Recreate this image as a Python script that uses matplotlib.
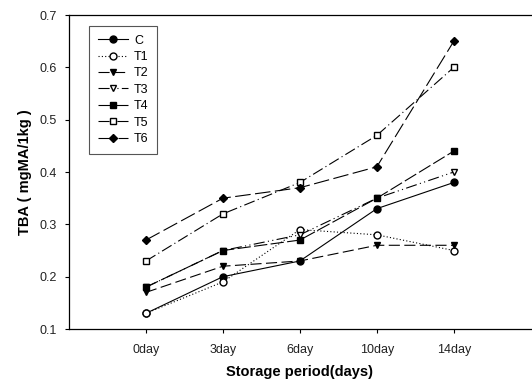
import matplotlib
matplotlib.use('Agg')
import matplotlib.pyplot as plt

plt.rcParams['font.family'] = ['Liberation Sans', 'DejaVu Sans']

days = ['0day', '3day', '6day', '10day', '14day']
C  = [0.13, 0.20, 0.23, 0.33, 0.38]
T1 = [0.13, 0.19, 0.29, 0.28, 0.25]
T2 = [0.17, 0.22, 0.23, 0.26, 0.26]
T3 = [0.18, 0.25, 0.28, 0.35, 0.40]
T4 = [0.18, 0.25, 0.27, 0.35, 0.44]
T5 = [0.23, 0.32, 0.38, 0.47, 0.60]
T6 = [0.27, 0.35, 0.37, 0.41, 0.65]

x = list(range(len(days)))

fig = plt.figure(figsize=(5.32, 3.82), dpi=100)
ax = fig.add_axes([0.1297, 0.1387, 0.868, 0.822])

lw = 0.8
ms = 5
ax.plot(x, C, color='black', linestyle='-', lw=lw, marker='o', ms=ms, label='C')
ax.plot(x, T1, color='black', linestyle=(0, (1, 2)), lw=lw, marker='o', ms=ms,
        markerfacecolor='white', label='T1')
ax.plot(x, T2, color='black', linestyle=(0, (10, 4)), lw=lw, marker='v', ms=ms, label='T2')
ax.plot(x, T3, color='black', linestyle=(0, (10, 3, 1, 3, 1, 3)), lw=lw, marker='v', ms=ms,
        markerfacecolor='white', label='T3')
ax.plot(x, T4, color='black', linestyle=(0, (12, 3)), lw=lw, marker='s', ms=ms - 0.5, label='T4')
ax.plot(x, T5, color='black', linestyle=(0, (10, 3, 1, 3)), lw=lw, marker='s', ms=ms - 0.5,
        markerfacecolor='white', label='T5')
ax.plot(x, T6, color='black', linestyle=(0, (14, 4)), lw=lw, marker='D', ms=ms - 0.5, label='T6')

ax.set_xlim(-1, 5)
ax.set_ylim(0.1, 0.7)
ax.set_xticks(x)
ax.set_xticklabels(days)
ax.set_yticks([0.1, 0.2, 0.3, 0.4, 0.5, 0.6, 0.7])
ax.tick_params(direction='out', length=3, width=0.8, labelsize=9, labelcolor='#222222')
ax.tick_params(axis='x', pad=8)
ax.tick_params(axis='y', pad=6)
ax.spines['right'].set_visible(False)
for s in ['left', 'top', 'bottom']:
    ax.spines[s].set_linewidth(0.9)

ax.set_xlabel('Storage period(days)', fontsize=10.5, fontweight='bold', labelpad=6)
ax.set_ylabel('TBA ( mgMA/1kg )', fontsize=10.5, fontweight='bold', labelpad=5)

leg = ax.legend(loc='upper left', bbox_to_anchor=(0.03, 0.985), fontsize=9,
                fancybox=False, framealpha=1, edgecolor='#555555',
                handlelength=2.4, handletextpad=0.5, labelspacing=0.35, borderpad=0.7)
leg.get_frame().set_linewidth(0.8)

plt.savefig('out.png', dpi=100)
